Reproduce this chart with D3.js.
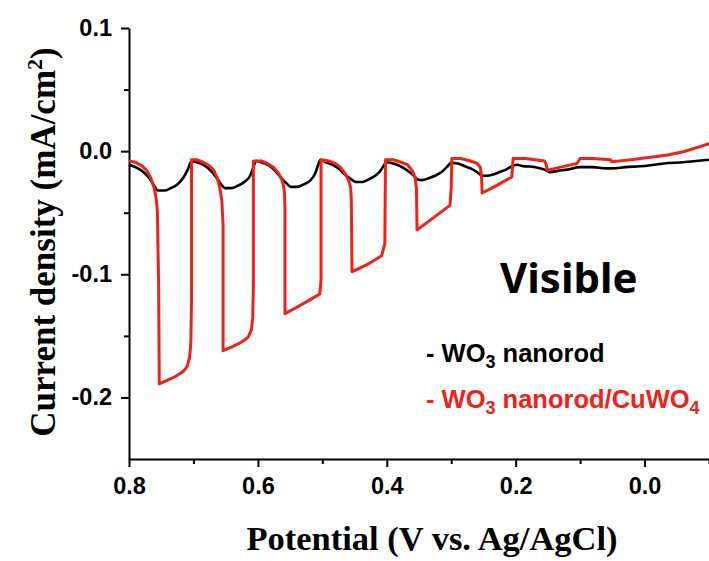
<!DOCTYPE html>
<html>
<head>
<meta charset="utf-8">
<script src="https://cdn.jsdelivr.net/npm/d3@7"></script>
<style>
  body { margin: 0; background: #fff; }
  svg { display: block; }
</style>
</head>
<body>
<div id="chart"></div>
<script>
// tick values
const xMajor = [0.8, 0.6, 0.4, 0.2, 0.0];
const xMinor = [0.7, 0.5, 0.3, 0.1, -0.1];
const yMajor = [0.1, 0.0, -0.1, -0.2];
const yMinor = [0.05, -0.05, -0.15];
const xTickLabels = ["0.8", "0.6", "0.4", "0.2", "0.0"];
const yTickLabels = ["0.1", "0.0", "-0.1", "-0.2"];

// WO3 nanorod (black), [potential, current density]
const wo3 = [
  [0.800,-0.011],[0.790,-0.013],[0.780,-0.016],[0.770,-0.021],[0.762,-0.027],[0.755,-0.032],
  [0.745,-0.032],[0.735,-0.030],[0.725,-0.027],[0.715,-0.021],[0.708,-0.014],[0.703,-0.008],
  [0.695,-0.009],[0.685,-0.011],[0.675,-0.015],[0.665,-0.021],[0.657,-0.027],[0.651,-0.030],
  [0.641,-0.030],[0.631,-0.028],[0.621,-0.025],[0.612,-0.020],[0.607,-0.013],[0.603,-0.008],
  [0.595,-0.009],[0.585,-0.011],[0.575,-0.015],[0.565,-0.021],[0.556,-0.026],[0.549,-0.029],
  [0.539,-0.029],[0.529,-0.027],[0.519,-0.024],[0.511,-0.018],[0.507,-0.012],[0.503,-0.007],
  [0.495,-0.009],[0.485,-0.011],[0.475,-0.014],[0.465,-0.019],[0.455,-0.023],[0.448,-0.025],
  [0.438,-0.025],[0.428,-0.023],[0.418,-0.020],[0.410,-0.016],[0.405,-0.012],[0.401,-0.009],
  [0.390,-0.010],[0.380,-0.012],[0.370,-0.015],[0.360,-0.019],[0.352,-0.023],[0.345,-0.0235],
  [0.335,-0.022],[0.325,-0.020],[0.315,-0.017],[0.307,-0.013],[0.300,-0.0095],
  [0.290,-0.010],[0.280,-0.012],[0.270,-0.014],[0.260,-0.017],[0.252,-0.020],[0.245,-0.020],
  [0.235,-0.019],[0.225,-0.017],[0.215,-0.015],[0.205,-0.012],[0.198,-0.011],
  [0.190,-0.012],[0.170,-0.013],[0.155,-0.015],[0.147,-0.017],[0.135,-0.016],[0.120,-0.015],
  [0.100,-0.013],[0.080,-0.013],[0.060,-0.014],[0.050,-0.014],[0.030,-0.013],[0.000,-0.012],
  [-0.030,-0.010],[-0.060,-0.009],[-0.100,-0.007]
];

// WO3 nanorod/CuWO4 (red), chopped light
const cuwo4 = [
  [0.800,-0.008],[0.790,-0.009],[0.780,-0.012],[0.772,-0.016],[0.766,-0.022],[0.761,-0.030],
  [0.758,-0.038],[0.756,-0.048],[0.754,-0.110],[0.753,-0.189],
  [0.740,-0.186],[0.728,-0.183],[0.716,-0.179],[0.710,-0.175],[0.706,-0.168],[0.704,-0.155],
  [0.703,-0.120],[0.703,-0.007],
  [0.695,-0.007],[0.685,-0.009],[0.675,-0.012],[0.668,-0.016],[0.663,-0.022],[0.659,-0.030],
  [0.656,-0.040],[0.654,-0.060],[0.654,-0.162],
  [0.640,-0.159],[0.625,-0.155],[0.615,-0.151],[0.610,-0.145],[0.608,-0.135],[0.607,-0.110],
  [0.607,-0.008],
  [0.595,-0.008],[0.585,-0.010],[0.576,-0.013],[0.568,-0.018],[0.562,-0.024],[0.559,-0.032],
  [0.558,-0.045],[0.558,-0.132],
  [0.540,-0.127],[0.520,-0.121],[0.504,-0.116],[0.502,-0.105],[0.502,-0.007],
  [0.490,-0.008],[0.480,-0.010],[0.472,-0.013],[0.465,-0.018],[0.459,-0.024],[0.456,-0.030],
  [0.455,-0.040],[0.454,-0.098],
  [0.430,-0.092],[0.408,-0.085],[0.403,-0.075],[0.402,-0.007],
  [0.390,-0.007],[0.378,-0.009],[0.368,-0.011],[0.360,-0.016],[0.356,-0.022],[0.354,-0.030],
  [0.353,-0.064],
  [0.330,-0.055],[0.302,-0.044],[0.300,-0.030],[0.299,-0.006],
  [0.285,-0.006],[0.270,-0.008],[0.260,-0.010],[0.255,-0.013],[0.253,-0.020],[0.252,-0.034],
  [0.230,-0.028],[0.206,-0.021],[0.204,-0.006],
  [0.185,-0.006],[0.170,-0.007],[0.155,-0.008],[0.152,-0.012],[0.151,-0.0155],
  [0.130,-0.013],[0.105,-0.010],[0.100,-0.006],
  [0.080,-0.006],[0.053,-0.007],[0.051,-0.0087],
  [0.030,-0.0075],[0.018,-0.0068],[0.000,-0.0055],[-0.034,-0.0033],[-0.060,-0.0005],
  [-0.085,0.0035],[-0.100,0.006]
];

const W = 709, H = 561;
const RED = "#ee2218";

const svg = d3.select("#chart")
  .append("svg")
  .attr("width", W)
  .attr("height", H);

// scales (x reversed: 0.8 on the left)
const x = d3.scaleLinear().domain([0.8, -0.1]).range([129, 709]);
const y = d3.scaleLinear().domain([-0.25, 0.1]).range([459, 28]);

const sansFont = "'Liberation Sans', Arial, sans-serif";
const serifFont = "'Liberation Serif', 'Times New Roman', serif";

// x axis
const xAxisG = svg.append("g").attr("transform", `translate(0,${y(-0.25)})`);
xAxisG.call(d3.axisBottom(x).tickValues(xMinor).tickSize(5).tickSizeOuter(0).tickFormat(""));
xAxisG.call(g => g.select(".domain").remove());
const xMajG = svg.append("g").attr("transform", `translate(0,${y(-0.25)})`);
xMajG.call(d3.axisBottom(x)
  .tickValues(xMajor)
  .tickSize(8)
  .tickSizeOuter(0)
  .tickPadding(10)
  .tickFormat((d, i) => xTickLabels[i]));

// y axis
const yMinG = svg.append("g").attr("transform", `translate(${x(0.8)},0)`);
yMinG.call(d3.axisLeft(y).tickValues(yMinor).tickSize(5).tickSizeOuter(0).tickFormat(""));
yMinG.call(g => g.select(".domain").remove());
const yMajG = svg.append("g").attr("transform", `translate(${x(0.8)},0)`);
yMajG.call(d3.axisLeft(y)
  .tickValues(yMajor)
  .tickSize(8)
  .tickSizeOuter(0)
  .tickPadding(9)
  .tickFormat((d, i) => yTickLabels[i]));

svg.selectAll(".domain, .tick line")
  .attr("stroke", "#000")
  .attr("stroke-width", 2);
svg.selectAll(".tick text")
  .attr("fill", "#000")
  .style("font-family", sansFont)
  .style("font-weight", "bold")
  .style("font-size", "23.5px");

// lines
const line = d3.line()
  .x(d => x(d[0]))
  .y(d => y(d[1]));

svg.append("path")
  .datum(wo3)
  .attr("fill", "none")
  .attr("stroke", "#000")
  .attr("stroke-width", 2.6)
  .attr("stroke-linejoin", "round")
  .attr("d", line.curve(d3.curveMonotoneX));

svg.append("path")
  .datum(cuwo4)
  .attr("fill", "none")
  .attr("stroke", RED)
  .attr("stroke-width", 3)
  .attr("stroke-linejoin", "round")
  .attr("d", line.curve(d3.curveLinear));

// x-axis title
svg.append("text")
  .attr("x", 432)
  .attr("y", 550)
  .attr("text-anchor", "middle")
  .style("font-family", serifFont)
  .style("font-weight", "bold")
  .style("font-size", "34.5px")
  .text("Potential (V vs. Ag/AgCl)");

// y-axis title
const yTitle = svg.append("text")
  .attr("transform", "translate(55,242) rotate(-90)")
  .attr("text-anchor", "middle")
  .style("font-family", serifFont)
  .style("font-weight", "bold")
  .style("font-size", "35px");
yTitle.append("tspan").text("Current density (mA/cm");
yTitle.append("tspan").attr("dy", -13).style("font-size", "22px").text("2");
yTitle.append("tspan").attr("dy", 13).text(")");

// label
svg.append("text")
  .attr("x", 500)
  .attr("y", 293)
  .style("font-family", "'Noto Sans', 'Open Sans', sans-serif")
  .style("font-weight", "bold")
  .style("font-size", "42px")
  .text("Visible");

// legend
function legendText(yPos, color, parts) {
  const t = svg.append("text")
    .attr("x", 426)
    .attr("y", yPos)
    .attr("fill", color)
    .style("font-family", sansFont)
    .style("font-weight", "bold")
    .style("font-size", "25.5px");
  parts.forEach(p => {
    t.append("tspan")
      .attr("dy", p.dy || 0)
      .style("font-size", p.sub ? "18px" : null)
      .text(p.t);
  });
}

legendText(362, "#000", [
  { t: "- WO" }, { t: "3", sub: true, dy: 6 }, { t: " nanorod", dy: -6 }
]);
legendText(408, RED, [
  { t: "- WO" }, { t: "3", sub: true, dy: 6 }, { t: " nanorod/CuWO", dy: -6 },
  { t: "4", sub: true, dy: 6 }
]);
</script>
</body>
</html>
